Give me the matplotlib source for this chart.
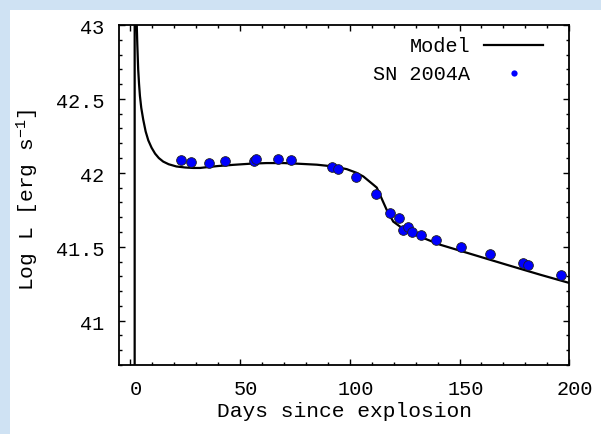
import matplotlib
matplotlib.use("Agg")
import matplotlib.pyplot as plt
import matplotlib.transforms as mtransforms
from matplotlib.patches import Rectangle
from matplotlib.ticker import MultipleLocator

# model light curve
model_day = [2.0, 2.0, 2.9, 3.2, 3.6, 4.0, 4.4, 5.0, 5.9, 7.0, 8.2, 9.7, 11.3,
             13.0, 15.0, 17.5, 21.0, 25.0, 28.6, 31.8, 34.8, 40.0, 46.9, 55.0,
             62.1, 70.0, 77.3, 85.0, 92.6, 98.6, 103.1, 106.2, 110.7, 112.3,
             113.8, 116.8, 119.8, 124.4, 128.5, 133.5, 141.1, 156.3, 171.5,
             186.7, 200.0]
model_logL = [40.0, 44.0, 43.03, 42.87, 42.70, 42.60, 42.52, 42.44, 42.36,
              42.28, 42.22, 42.17, 42.13, 42.10, 42.076, 42.058, 42.043,
              42.036, 42.033, 42.033, 42.038, 42.046, 42.054, 42.062, 42.066,
              42.066, 42.061, 42.055, 42.043, 42.025, 42.0, 41.975, 41.92,
              41.9, 41.85, 41.75, 41.67, 41.62, 41.59, 41.559, 41.514, 41.446,
              41.378, 41.311, 41.255]

# SN 2004A observations
obs_day = [22.9, 27.7, 35.9, 43.0, 56.3, 57.5, 67.3, 73.3, 91.7, 94.8, 103.0,
           112.0, 118.2, 122.2, 124.2, 126.5, 128.4, 132.6, 139.4, 150.8,
           163.8, 178.8, 181.1, 196.3]
obs_logL = [42.086, 42.076, 42.069, 42.079, 42.082, 42.091, 42.091, 42.086,
            42.042, 42.024, 41.974, 41.855, 41.727, 41.692, 41.615, 41.631,
            41.597, 41.579, 41.545, 41.500, 41.449, 41.393, 41.375, 41.310]

xticks = [0, 50, 100, 150, 200]
yticks = [41, 41.5, 42, 42.5, 43]
ytick_labels = ["41", "41.5", "42", "42.5", "43"]

plt.rcParams['font.family'] = ['Liberation Mono', 'DejaVu Sans Mono']
plt.rcParams['mathtext.fontset'] = 'custom'
plt.rcParams['mathtext.rm'] = 'Liberation Mono'
plt.rcParams['mathtext.it'] = 'Liberation Mono'
fs = 14.6

fig = plt.figure(figsize=(6.01, 4.34), dpi=100)
fig.patch.set_facecolor('white')
# light blue frame on the left and top
blue = '#cfe2f3'
fig.patches.append(Rectangle((0, 0), 10 / 601, 1, transform=fig.transFigure,
                             facecolor=blue, edgecolor='none', zorder=-10))
fig.patches.append(Rectangle((0, 1 - 10 / 434), 1, 10 / 434, transform=fig.transFigure,
                             facecolor=blue, edgecolor='none', zorder=-10))

ax = fig.add_axes([119.3 / 601, 1 - 365 / 434, 450 / 601, 340 / 434])

ax.plot(model_day, model_logL, color='black', lw=1.6, label='Model', zorder=2)
ax.plot(obs_day, obs_logL, 'o', color='#0000ff', mec='#202020', mew=0.6,
        ms=7.0, label='SN 2004A', zorder=3)

ax.set_xlim(-5, 200)
ax.set_ylim(40.7, 43)
ax.set_xticks(xticks)
ax.set_yticks(yticks)
ax.set_yticklabels(ytick_labels)
ax.xaxis.set_minor_locator(MultipleLocator(10))
ax.yaxis.set_minor_locator(MultipleLocator(0.1))
ax.tick_params(which='both', direction='in', top=True, right=True,
               labelsize=fs, colors='black', width=1)
ax.tick_params(which='major', length=4)
ax.tick_params(which='minor', length=2)
ax.tick_params(axis='x', pad=11)
ax.tick_params(axis='y', pad=11)
for s in ax.spines.values():
    s.set_linewidth(1.3)

# gnuplot-style label offset
off = mtransforms.ScaledTranslation(6 / 100, 0, fig.dpi_scale_trans)
for lab in ax.get_xticklabels():
    lab.set_transform(lab.get_transform() + off)
offy = mtransforms.ScaledTranslation(0, -2 / 100, fig.dpi_scale_trans)
for lab in ax.get_yticklabels():
    lab.set_transform(lab.get_transform() + offy)

ax.set_xlabel('Days since explosion', fontsize=15.3)
ax.xaxis.set_label_coords(0.5, -0.11)
ax.set_ylabel(r'Log L [erg s$^{-1}$]', fontsize=15.3)
ax.yaxis.set_label_coords(-0.173, 0.485)

leg = ax.legend(loc='upper right', markerfirst=False, frameon=False,
                fontsize=fs, handlelength=2.9, handletextpad=0.7,
                labelspacing=0.4, borderaxespad=0.3,
                bbox_to_anchor=(0.973, 1.005))
for h in leg.legend_handles:
    if h.get_label() == 'SN 2004A':
        h.set_markersize(4.5)
        h.set_markeredgewidth(0)

fig.savefig('out.png', dpi=100)
